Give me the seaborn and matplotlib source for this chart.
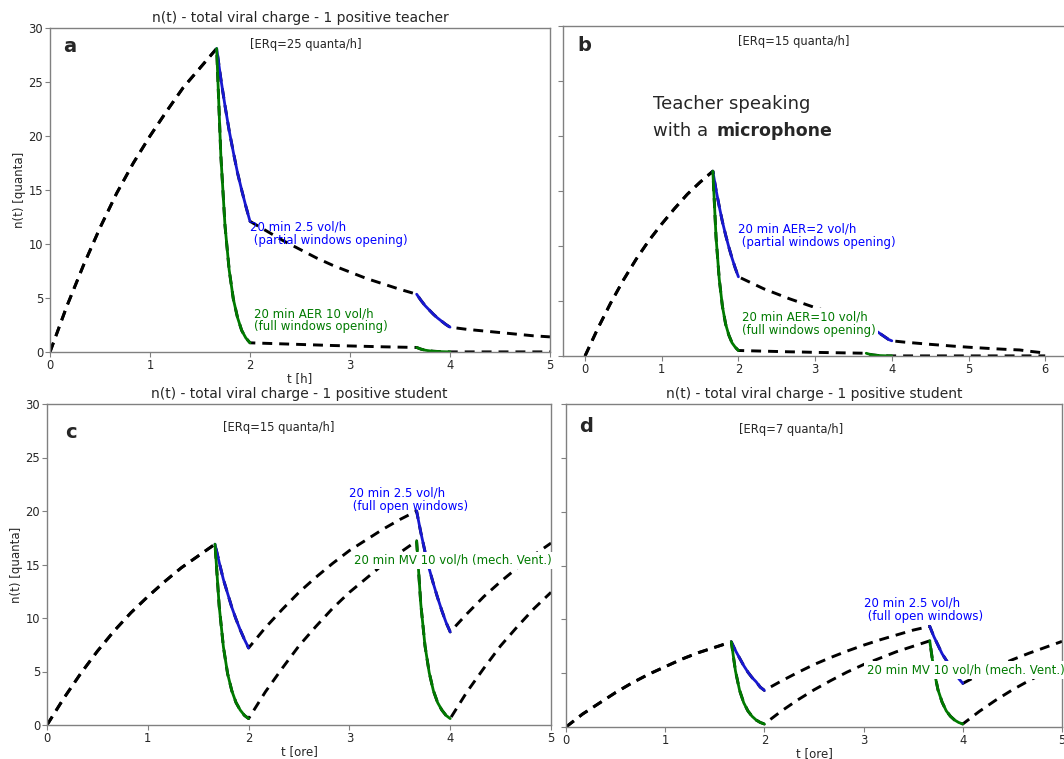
import numpy as np
import pandas as pd
import matplotlib
matplotlib.use("Agg")
import matplotlib.pyplot as plt
import seaborn as sns

sns.set_style("ticks")
plt.rcParams["font.family"] = ["DejaVu Sans"]

# time grid in minutes (finer steps during the 20 min of ventilation)
t_min = [0, 10, 20, 30, 40, 50, 60, 70, 80, 90, 100,
         102.5, 105, 107.5, 110, 112.5, 115, 117.5, 120,
         130, 140, 150, 160, 170, 180, 190, 200, 210, 220,
         222.5, 225, 227.5, 230, 232.5, 235, 237.5, 240,
         250, 260, 270, 280, 290, 300]
t_min_b = t_min + [310, 320, 330, 340, 350, 360]
vent_windows = [(100, 120), (220, 240)]

# a - positive teacher, ERq=25
a_blue = [0, 4.2, 8.0, 11.5, 14.7, 17.5, 20.0, 22.3, 24.5, 26.3, 28.1,
          25.3, 22.8, 20.5, 18.5, 16.6, 15.0, 13.5, 12.1,
          11.2, 10.3, 9.5, 8.7, 8.0, 7.4, 6.8, 6.3, 5.8, 5.35,
          4.8, 4.3, 3.9, 3.5, 3.15, 2.85, 2.55, 2.3,
          2.1, 1.95, 1.8, 1.65, 1.5, 1.4]
a_green = [0, 4.2, 8.0, 11.5, 14.7, 17.5, 20.0, 22.3, 24.5, 26.3, 28.1,
           18.2, 11.7, 7.6, 4.9, 3.2, 2.0, 1.3, 0.85,
           0.8, 0.75, 0.7, 0.65, 0.6, 0.56, 0.52, 0.48, 0.45, 0.42,
           0.27, 0.17, 0.11, 0.07, 0.05, 0.03, 0.02, 0.01,
           0.01, 0.01, 0.01, 0.01, 0.01, 0.01]

# b - teacher with microphone, ERq=15
b_blue = [0, 2.5, 4.8, 6.9, 8.8, 10.5, 12.0, 13.4, 14.7, 15.8, 16.8,
          15.1, 13.6, 12.2, 11.0, 9.9, 8.9, 8.0, 7.2,
          6.65, 6.1, 5.65, 5.2, 4.8, 4.4, 4.05, 3.75, 3.45, 3.2,
          2.85, 2.6, 2.3, 2.1, 1.9, 1.7, 1.5, 1.38,
          1.26, 1.16, 1.06, 0.97, 0.88, 0.8,
          0.73, 0.66, 0.6, 0.55, 0.4, 0.27]
b_green = [0, 2.5, 4.8, 6.9, 8.8, 10.5, 12.0, 13.4, 14.7, 15.8, 16.8,
           10.8, 7.0, 4.5, 2.9, 1.9, 1.2, 0.8, 0.5,
           0.47, 0.44, 0.41, 0.38, 0.36, 0.33, 0.31, 0.29, 0.27, 0.25,
           0.16, 0.1, 0.07, 0.04, 0.03, 0.02, 0.01, 0.01,
           0.01, 0.01, 0.01, 0.01, 0.01, 0.01,
           0.01, 0.01, 0.01, 0.01, 0.01, 0.01]

# c - positive student, ERq=15
c_blue = [0, 2.5, 4.8, 6.9, 8.8, 10.5, 12.0, 13.4, 14.7, 15.8, 16.9,
          15.2, 13.6, 12.3, 11.0, 9.9, 8.9, 8.0, 7.2,
          9.1, 10.8, 12.4, 13.8, 15.1, 16.3, 17.3, 18.3, 19.2, 20.0,
          18.0, 16.2, 14.6, 13.2, 11.9, 10.7, 9.6, 8.7,
          10.4, 12.0, 13.4, 14.7, 15.9, 17.0]
c_green = [0, 2.5, 4.8, 6.9, 8.8, 10.5, 12.0, 13.4, 14.7, 15.8, 16.9,
           11.1, 7.3, 4.8, 3.2, 2.1, 1.4, 0.9, 0.6,
           3.1, 5.3, 7.4, 9.2, 10.9, 12.4, 13.7, 15.0, 16.1, 17.2,
           11.3, 7.4, 4.9, 3.2, 2.1, 1.4, 0.9, 0.6,
           3.1, 5.3, 7.4, 9.2, 10.9, 12.4]

# d - positive student, ERq=7
d_blue = [0, 1.2, 2.2, 3.2, 4.1, 4.9, 5.6, 6.3, 6.9, 7.4, 7.9,
          7.1, 6.4, 5.7, 5.1, 4.6, 4.2, 3.7, 3.4,
          4.25, 5.05, 5.8, 6.45, 7.05, 7.6, 8.1, 8.55, 9.0, 9.35,
          8.4, 7.6, 6.8, 6.2, 5.6, 5.0, 4.5, 4.05,
          4.85, 5.6, 6.25, 6.85, 7.4, 7.95]
d_green = [0, 1.2, 2.2, 3.2, 4.1, 4.9, 5.6, 6.3, 6.9, 7.4, 7.9,
           5.2, 3.4, 2.25, 1.5, 1.0, 0.65, 0.42, 0.28,
           1.45, 2.5, 3.45, 4.3, 5.1, 5.8, 6.4, 7.0, 7.5, 8.0,
           5.3, 3.45, 2.3, 1.5, 1.0, 0.65, 0.42, 0.28,
           1.45, 2.5, 3.45, 4.3, 5.1, 5.8]

BLUE_LINE = "#1818d0"
GREEN = "#007a00"
SPINE = "0.5"
ANN = 8.5

W, H = 1064, 759


def px_axes(fig, left, right, top, bottom):
    return fig.add_axes([left / W, (H - bottom) / H, (right - left) / W, (bottom - top) / H])


def draw_curve(ax, t, n, color):
    df = pd.DataFrame({"tm": t, "n": n})
    df["t"] = df["tm"] / 60
    sns.lineplot(data=df, x="t", y="n", ax=ax, color="black",
                 linestyle=(0, (3.4, 2.4)), lw=2.1, sort=False,
                 estimator=None, zorder=2)
    for lo, hi in vent_windows:
        seg = df[(df["tm"] >= lo) & (df["tm"] <= hi)]
        sns.lineplot(data=seg, x="t", y="n", ax=ax, color=color, lw=2,
                     sort=False, estimator=None, zorder=2.5)


def style_axes(ax, xlim, xticks, ylabels=True):
    ax.set_xlim(*xlim)
    ax.set_ylim(0, 30)
    ax.set_xticks(xticks)
    ax.set_yticks(range(0, 31, 5))
    for s in ax.spines.values():
        s.set_color(SPINE)
        s.set_linewidth(1.0)
    ax.tick_params(color=SPINE, labelcolor="0.15", labelsize=8.3, length=3.5,
                   width=0.8, labelleft=ylabels, pad=1.5)
    ax.set_xlabel("")
    ax.set_ylabel("")


fig = plt.figure(figsize=(W / 100, H / 100), dpi=100)

# ---- a
ax_a = px_axes(fig, 50, 550, 28, 352)
draw_curve(ax_a, t_min, a_blue, BLUE_LINE)
draw_curve(ax_a, t_min, a_green, GREEN)
style_axes(ax_a, (0, 5), range(0, 6))
ax_a.set_title("n(t) - total viral charge - 1 positive teacher", fontsize=10, pad=4)
ax_a.set_ylabel("n(t) [quanta]", fontsize=8.5, labelpad=2)
ax_a.set_xlabel("t [h]", fontsize=8.5, labelpad=0)
ax_a.text(0.13, 28.3, "a", fontsize=14, fontweight="bold", va="center")
ax_a.text(2.0, 28.5, "[ERq=25 quanta/h]", fontsize=8.3, va="center")
ax_a.text(2.0, 10.95, "20 min 2.5 vol/h\n (partial windows opening)", color="blue",
          fontsize=ANN, va="center", linespacing=1.0)
ax_a.text(2.04, 2.95, "20 min AER 10 vol/h\n(full windows opening)", color=GREEN,
          fontsize=ANN, va="center", linespacing=1.0)

# ---- b
ax_b = px_axes(fig, 563, 1064, 26, 356)
draw_curve(ax_b, t_min_b, b_blue, BLUE_LINE)
draw_curve(ax_b, t_min_b, b_green, GREEN)
style_axes(ax_b, (-0.287, 6.245), range(0, 7), ylabels=False)
ax_b.spines["right"].set_visible(False)
ax_b.text(-0.1, 28.2, "b", fontsize=14, fontweight="bold", va="center")
ax_b.text(2.0, 28.6, "[ERq=15 quanta/h]", fontsize=8.3, va="center")
ax_b.text(0.89, 22.9, "Teacher speaking", fontsize=13, va="center")
ax_b.text(0.89, 20.5, "with a", fontsize=13, va="center")
ax_b.text(1.71, 20.5, "microphone", fontsize=12.5, fontweight="bold", va="center")
ax_b.text(2.0, 10.95, "20 min AER=2 vol/h\n (partial windows opening)", color="blue",
          fontsize=ANN, va="center", linespacing=1.0)
ax_b.text(2.05, 2.95, "20 min AER=10 vol/h\n(full windows opening)", color=GREEN,
          fontsize=ANN, va="center", linespacing=1.0,
          bbox=dict(facecolor="white", edgecolor="none", pad=1.5))

# ---- c
ax_c = px_axes(fig, 47, 551, 404, 725)
draw_curve(ax_c, t_min, c_blue, BLUE_LINE)
draw_curve(ax_c, t_min, c_green, GREEN)
style_axes(ax_c, (0, 5), range(0, 6))
ax_c.set_title("n(t) - total viral charge - 1 positive student", fontsize=10, pad=4)
ax_c.set_ylabel("n(t) [quanta]", fontsize=8.5, labelpad=2)
ax_c.set_xlabel("t [ore]", fontsize=8.5, labelpad=0)
ax_c.text(0.18, 27.3, "c", fontsize=14, fontweight="bold", va="center")
ax_c.text(1.75, 27.8, "[ERq=15 quanta/h]", fontsize=8.3, va="center")
ax_c.text(3.0, 21.05, "20 min 2.5 vol/h\n (full open windows)", color="blue",
          fontsize=ANN, va="center", linespacing=1.0)
ax_c.text(3.05, 15.4, "20 min MV 10 vol/h (mech. Vent.)", color=GREEN,
          fontsize=ANN, va="center",
          bbox=dict(facecolor="white", edgecolor="none", pad=1.5))

# ---- d
ax_d = px_axes(fig, 566, 1062, 404, 727)
draw_curve(ax_d, t_min, d_blue, BLUE_LINE)
draw_curve(ax_d, t_min, d_green, GREEN)
style_axes(ax_d, (0, 5), range(0, 6), ylabels=False)
ax_d.set_title("n(t) - total viral charge - 1 positive student", fontsize=10, pad=4)
ax_d.set_xlabel("t [ore]", fontsize=8.5, labelpad=0)
ax_d.text(0.13, 27.9, "d", fontsize=14, fontweight="bold", va="center")
ax_d.text(1.74, 27.6, "[ERq=7 quanta/h]", fontsize=8.3, va="center")
ax_d.text(3.0, 10.9, "20 min 2.5 vol/h\n (full open windows)", color="blue",
          fontsize=ANN, va="center", linespacing=1.0)
ax_d.text(3.03, 5.3, "20 min MV 10 vol/h (mech. Vent.)", color=GREEN,
          fontsize=ANN, va="center",
          bbox=dict(facecolor="white", edgecolor="none", pad=1.5))

fig.savefig("out.png", dpi=100)
